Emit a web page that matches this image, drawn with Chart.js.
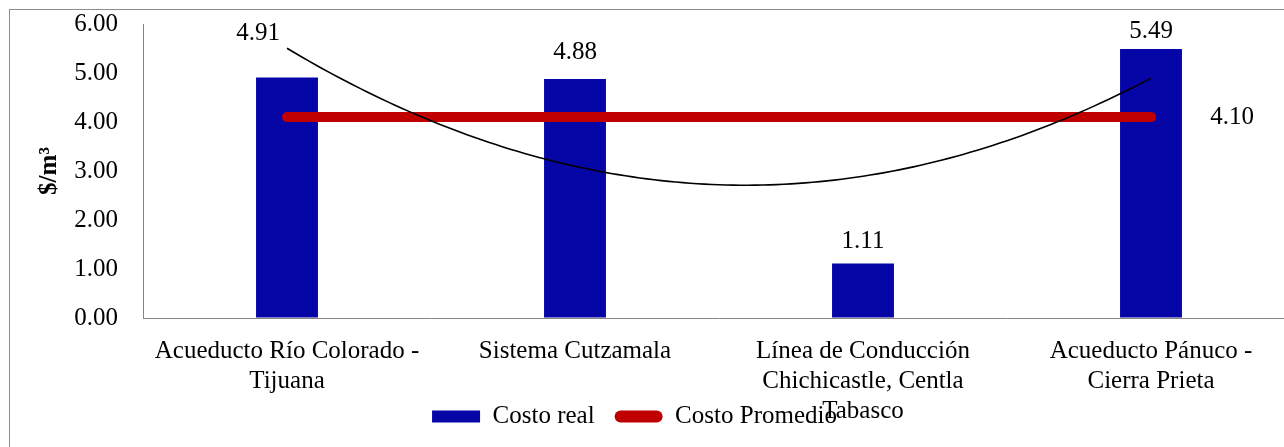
<!DOCTYPE html>
<html>
<head>
<meta charset="UTF-8">
<title>Costo por m³</title>
<script src="https://cdn.jsdelivr.net/npm/chart.js"></script>
<style>
  html, body { margin: 0; padding: 0; background: #fff; overflow: hidden; }
  body { width: 1284px; height: 447px; position: relative; }
  .chart-box { position: absolute; left: 0; top: 0; width: 1310px; height: 480px; }
  .frame { position: absolute; left: 9px; top: 9px; width: 1400px; height: 600px; border: 1px solid #8c8c8c; pointer-events: none; }
</style>
</head>
<body>
<div class="chart-box"><canvas id="costChart"></canvas></div>
<div class="frame"></div>

<script>
// datos
const proyectos = [
  ['Acueducto Río Colorado -', 'Tijuana'],
  ['Sistema Cutzamala'],
  ['Línea de Conducción', 'Chichicastle, Centla', 'Tabasco'],
  ['Acueducto Pánuco -', 'Cierra Prieta']
];
const costoReal = [4.91, 4.88, 1.11, 5.49];
const costoPromedio = [4.10, 4.10, 4.10, 4.10];
const yTicks = [0, 1, 2, 3, 4, 5, 6];

const FONT = '"Liberation Serif", "Times New Roman", serif';
const FONT_SIZE = 25;

// ajuste polinómico de grado 2 (mínimos cuadrados) sobre el costo real
function quadFit(ys) {
  const S = [0, 0, 0, 0, 0], T = [0, 0, 0];
  ys.forEach((v, i) => {
    for (let k = 0; k < 5; k++) S[k] += Math.pow(i, k);
    for (let k = 0; k < 3; k++) T[k] += v * Math.pow(i, k);
  });
  const M = [
    [S[0], S[1], S[2], T[0]],
    [S[1], S[2], S[3], T[1]],
    [S[2], S[3], S[4], T[2]]
  ];
  for (let i = 0; i < 3; i++) {
    for (let j = i + 1; j < 3; j++) {
      const f = M[j][i] / M[i][i];
      for (let k = i; k < 4; k++) M[j][k] -= f * M[i][k];
    }
  }
  const c = [0, 0, 0];
  for (let i = 2; i >= 0; i--) {
    let s = M[i][3];
    for (let k = i + 1; k < 3; k++) s -= M[i][k] * c[k];
    c[i] = s / M[i][i];
  }
  return c;
}

// desplazamiento de cada etiqueta respecto a la barra (dx, distancia hacia arriba)
const labelNudge = [[-29, 44], [0, 26], [0, 22], [0, 18]];

const trendAndLabels = {
  id: 'trendAndLabels',
  afterDatasetsDraw(chart) {
    const { ctx, scales: { x, y } } = chart;
    const c = quadFit(costoReal);
    const x0 = x.getPixelForValue(0);
    const step = x.getPixelForValue(1) - x0;
    const last = costoReal.length - 1;
    const N = 120;

    ctx.save();
    // línea de tendencia
    ctx.beginPath();
    for (let i = 0; i <= N; i++) {
      const u = i * last / N;
      const px = x0 + u * step;
      const py = y.getPixelForValue(c[0] + c[1] * u + c[2] * u * u);
      if (i === 0) ctx.moveTo(px, py); else ctx.lineTo(px, py);
    }
    ctx.strokeStyle = '#000';
    ctx.lineWidth = 1.6;
    ctx.stroke();

    // etiquetas de valor
    ctx.font = FONT_SIZE + 'px ' + FONT;
    ctx.fillStyle = '#000';
    ctx.textAlign = 'center';
    ctx.textBaseline = 'middle';
    chart.getDatasetMeta(0).data.forEach((bar, i) => {
      const [dx, dy] = labelNudge[i];
      ctx.fillText(costoReal[i].toFixed(2), bar.x + dx, bar.y - dy);
    });
    const pts = chart.getDatasetMeta(1).data;
    const p = pts[pts.length - 1];
    ctx.fillText(costoPromedio[costoPromedio.length - 1].toFixed(2), p.x + 81, p.y);
    ctx.restore();
  }
};

// la leyenda queda encima de la última línea de las categorías
const legendShift = {
  id: 'legendShift',
  afterLayout(chart) {
    const lg = chart.legend;
    lg.top -= 39; lg.bottom -= 39;
    lg.left -= 13; lg.right -= 13;
  }
};

new Chart(document.getElementById('costChart'), {
  data: {
    labels: proyectos,
    datasets: [
      {
        type: 'bar',
        label: 'Costo real',
        data: costoReal,
        backgroundColor: '#0606a6',
        barPercentage: 0.215,
        categoryPercentage: 1,
        order: 2
      },
      {
        type: 'line',
        label: 'Costo Promedio',
        data: costoPromedio,
        borderColor: '#c00000',
        backgroundColor: '#c00000',
        borderWidth: 10,
        borderCapStyle: 'round',
        pointRadius: 0,
        fill: false,
        order: 1
      }
    ]
  },
  options: {
    responsive: true,
    maintainAspectRatio: false,
    animation: false,
    layout: { padding: { left: 0, top: 24, right: 15, bottom: 2 } },
    plugins: {
      tooltip: { enabled: false },
      legend: {
        position: 'bottom',
        labels: {
          font: { family: FONT, size: FONT_SIZE },
          color: '#000',
          boxWidth: 48,
          boxHeight: 12,
          padding: 20,
          generateLabels(chart) {
            return chart.data.datasets.map((ds, i) => ({
              text: ds.label,
              fillStyle: ds.type === 'line' ? ds.borderColor : ds.backgroundColor,
              strokeStyle: 'rgba(0,0,0,0)',
              lineWidth: 0,
              borderRadius: ds.type === 'line' ? 6 : 0,
              fontColor: '#000',
              hidden: false,
              datasetIndex: i
            }));
          }
        }
      }
    },
    scales: {
      x: {
        grid: { display: true, drawOnChartArea: false, drawTicks: false },
        border: { display: true, color: '#868686', width: 1 },
        ticks: {
          font: { family: FONT, size: FONT_SIZE, lineHeight: 1.2 },
          color: '#000',
          padding: 18,
          maxRotation: 0,
          autoSkip: false
        },
        afterFit(scale) { scale.height = 105; }
      },
      y: {
        min: yTicks[0],
        max: yTicks[yTicks.length - 1],
        afterBuildTicks(scale) { scale.ticks = yTicks.map(v => ({ value: v })); },
        grid: { display: true, drawOnChartArea: false, drawTicks: true, tickLength: 25, tickColor: 'rgba(0,0,0,0)' },
        border: { display: true, color: '#868686', width: 1 },
        ticks: {
          font: { family: FONT, size: FONT_SIZE },
          color: '#000',
          padding: 0,
          callback: v => Number(v).toFixed(2)
        },
        title: {
          display: true,
          text: '$/m³',
          font: { family: FONT, size: 25, weight: 'bold' },
          color: '#000',
          padding: { top: 35, bottom: 0 }
        },
        afterFit(scale) { scale.width = 143; }
      }
    }
  },
  plugins: [trendAndLabels, legendShift]
});
</script>
</body>
</html>
